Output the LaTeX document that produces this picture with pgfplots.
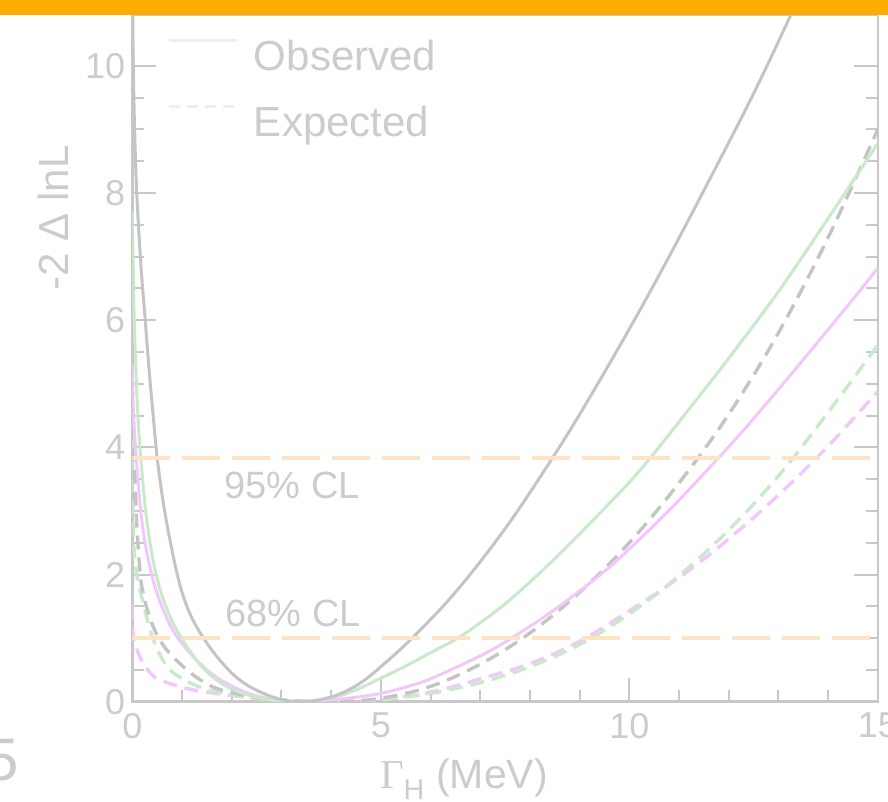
\documentclass[border=0pt]{standalone}
\usepackage{fontspec}
\setmainfont{Liberation Sans}
\newfontfamily\serifgreek{Liberation Serif}
\usepackage{pgfplots}
\pgfplotsset{compat=1.18}

\definecolor{textgray}{RGB}{204,204,204}
\definecolor{axisgray}{RGB}{200,200,200}
\definecolor{curvegray}{RGB}{196,196,196}
\definecolor{curvegreen}{RGB}{200,234,200}
\definecolor{curvepink}{RGB}{242,200,250}
\definecolor{clorange}{RGB}{253,228,196}
\definecolor{bandorange}{RGB}{255,172,0}
\definecolor{keygray}{RGB}{238,238,238}

% likelihood scans: combined (gray), channel A (green), channel B (pink)
\pgfplotstableread{
x y
0 11.6
0.02 10.0
0.05 8.9
0.09 8.0
0.17 6.9
0.26 6.0
0.34 5.2
0.42 4.5
0.5 3.84
0.6 3.25
0.7 2.78
0.8 2.38
0.89 2.05
1.0 1.72
1.15 1.4
1.3 1.17
1.46 0.97
1.65 0.76
1.89 0.54
2.1 0.38
2.4 0.22
2.8 0.08
3.1 0.02
3.4 0
3.8 0.035
4.2 0.13
4.6 0.3
5.0 0.55
5.63 1.0
6.5 1.72
7.5 2.72
8.46 3.84
9.2 4.78
10.1 6.0
10.8 7.0
11.44 7.95
12.46 9.5
13.25 10.8
13.6 11.4
}\obsall
\pgfplotstableread{
x y
0 7.7
0.02 6.8
0.04 6.0
0.1 4.7
0.17 3.84
0.3 2.8
0.48 2.0
0.7 1.45
0.99 1.0
1.46 0.5
2.0 0.2
2.7 0.04
3.4 0
3.8 0.03
4.2 0.1
4.6 0.22
5.0 0.37
5.5 0.56
6.0 0.77
6.55 1.0
7.0 1.24
7.5 1.54
8.0 1.88
8.5 2.25
9.0 2.64
9.5 3.04
10.0 3.45
10.43 3.84
11.0 4.4
12.0 5.4
13.0 6.45
14.0 7.6
15.0 8.78
}\obsgreen
\pgfplotstableread{
x y
0 5.3
0.02 4.6
0.08 3.84
0.2 2.8
0.39 2.0
0.62 1.45
0.92 1.0
1.5 0.5
2.15 0.19
2.8 0.04
3.4 0
4.0 0.03
4.5 0.07
5.0 0.13
5.5 0.23
6.0 0.36
7.0 0.72
7.63 1.0
8.5 1.45
9.5 2.05
10.2 2.55
11.0 3.17
11.8 3.84
12.5 4.45
13.5 5.38
14.5 6.33
15.0 6.82
}\obspink
\pgfplotstableread{
x y
0 5.38
0.01 4.6
0.04 3.84
0.09 2.8
0.16 2.0
0.22 1.7
0.3 1.45
0.4 1.22
0.53 1.0
0.65 0.86
0.8 0.72
1.1 0.5
1.4 0.33
1.77 0.19
2.5 0.07
3.2 0.015
4.1 0
5.0 0.055
6.0 0.24
7.0 0.59
8.0 1.08
9.0 1.72
10.0 2.5
11.0 3.44
12.0 4.52
13.0 5.8
14.0 7.3
15.0 9.0
}\expall
\pgfplotstableread{
x y
0 4.2
0.01 3.3
0.02 2.65
0.07 2.1
0.155 1.76
0.36 1.13
0.55 0.75
0.76 0.5
1.1 0.32
1.53 0.19
2.3 0.07
3.2 0.015
4.1 0
5 0.03
6 0.13
7 0.3
8 0.55
9 0.9
10 1.38
11 1.98
12 2.7
13 3.55
14 4.55
15 5.61
}\expgreen
\pgfplotstableread{
x y
0 1.52
0.01 1.25
0.03 1.0
0.155 0.7
0.29 0.52
0.42 0.41
0.56 0.34
1.09 0.21
1.68 0.13
2.56 0.05
3.3 0.012
4.1 0
5 0.035
6 0.15
7 0.36
8 0.6
9 0.95
10 1.43
11 1.95
12 2.56
13 3.25
14 4.02
15 4.88
}\exppink

\begin{document}
\begin{tikzpicture}[x=1pt,y=1pt]
\useasboundingbox (0,0) rectangle (888,801);
\begin{axis}[
  at={(132.3pt,99.3pt)}, anchor=south west,
  scale only axis, width=745.5pt, height=686.7pt,
  xmin=0, xmax=15, ymin=0, ymax=10.8,
  xtick={0,5,10,15}, ytick={0,2,4,6,8,10},
  minor x tick num=4, minor y tick num=3,
  xtick pos=bottom, ytick pos=both,
  tick align=inside,
  major tick length=24pt, minor tick length=12pt,
  every tick/.style={axisgray, line width=2pt},
  axis line style={axisgray, line width=2.6pt},
  /pgf/number format/assume math mode=true,
  tick label style={font=\fontsize{36}{40}\selectfont, text=textgray, inner sep=0pt},
  yticklabel style={anchor=east, xshift=-7pt},
  xticklabel style={anchor=north, yshift=-11pt},
  xlabel={{\serifgreek Γ}\textsubscript{H} (MeV)},
  ylabel={-2 Δ lnL},
  every axis x label/.style={at={(axis description cs:0.332,-0.1257)}, anchor=base west,
    font=\fontsize{41}{48}\selectfont, text=textgray, inner sep=0pt},
  every axis y label/.style={at={(axis description cs:-0.0862,0.7044)}, rotate=90, anchor=base,
    font=\fontsize{42}{48}\selectfont, text=textgray, inner sep=0pt},
  legend style={at={(axis cs:0.718,10.42)}, anchor=north west, draw=none, fill=none,
    inner sep=0pt, outer sep=0pt, font=\fontsize{42}{50}\selectfont, text=textgray,
    row sep=25pt, column sep=15pt,
    nodes={inner sep=0pt, text height=31pt, text depth=9pt}},
  legend cell align=left,
  legend image code/.code={\draw[#1] (0pt,19pt) -- (68pt,19pt);},
]
\addlegendimage{keygray, line width=3pt}
\addlegendentry{Observed}
\addlegendimage{keygray, line width=3pt, dash pattern=on 11pt off 7pt}
\addlegendentry{Expected}

\pgfplotsset{
  obsline/.style={line width=3pt, smooth, tension=0.6, forget plot},
  expline/.style={line width=3.4pt, smooth, tension=0.6, dash pattern=on 14pt off 8pt, forget plot},
}
\addplot[curvepink, expline] table {\exppink};
\addplot[curvegreen, expline] table {\expgreen};
\addplot[curvegray, expline] table {\expall};
\addplot[curvepink, obsline] table {\obspink};
\addplot[curvegreen, obsline] table {\obsgreen};
\addplot[curvegray, obsline] table {\obsall};

% confidence-level thresholds
\addplot[clorange, line width=4pt, dash pattern=on 38pt off 12pt, forget plot] coordinates {(0,3.84) (15,3.84)};
\addplot[clorange, line width=4pt, dash pattern=on 38pt off 12pt, forget plot] coordinates {(0,1) (15,1)};
\node[anchor=base west, inner sep=0pt, text=textgray, font=\fontsize{38}{44}\selectfont] at (axis cs:1.85,3.19) {95\% CL};
\node[anchor=base west, inner sep=0pt, text=textgray, font=\fontsize{38}{44}\selectfont] at (axis cs:1.87,1.175) {68\% CL};
\end{axis}
% neighbouring panel edge and title band
\node[anchor=base east, inner sep=0pt, text=textgray, font=\fontsize{60}{70}\selectfont] at (19.5,21) {5};
\fill[bandorange] (0,785.5) rectangle (888,801);
\end{tikzpicture}
\end{document}
